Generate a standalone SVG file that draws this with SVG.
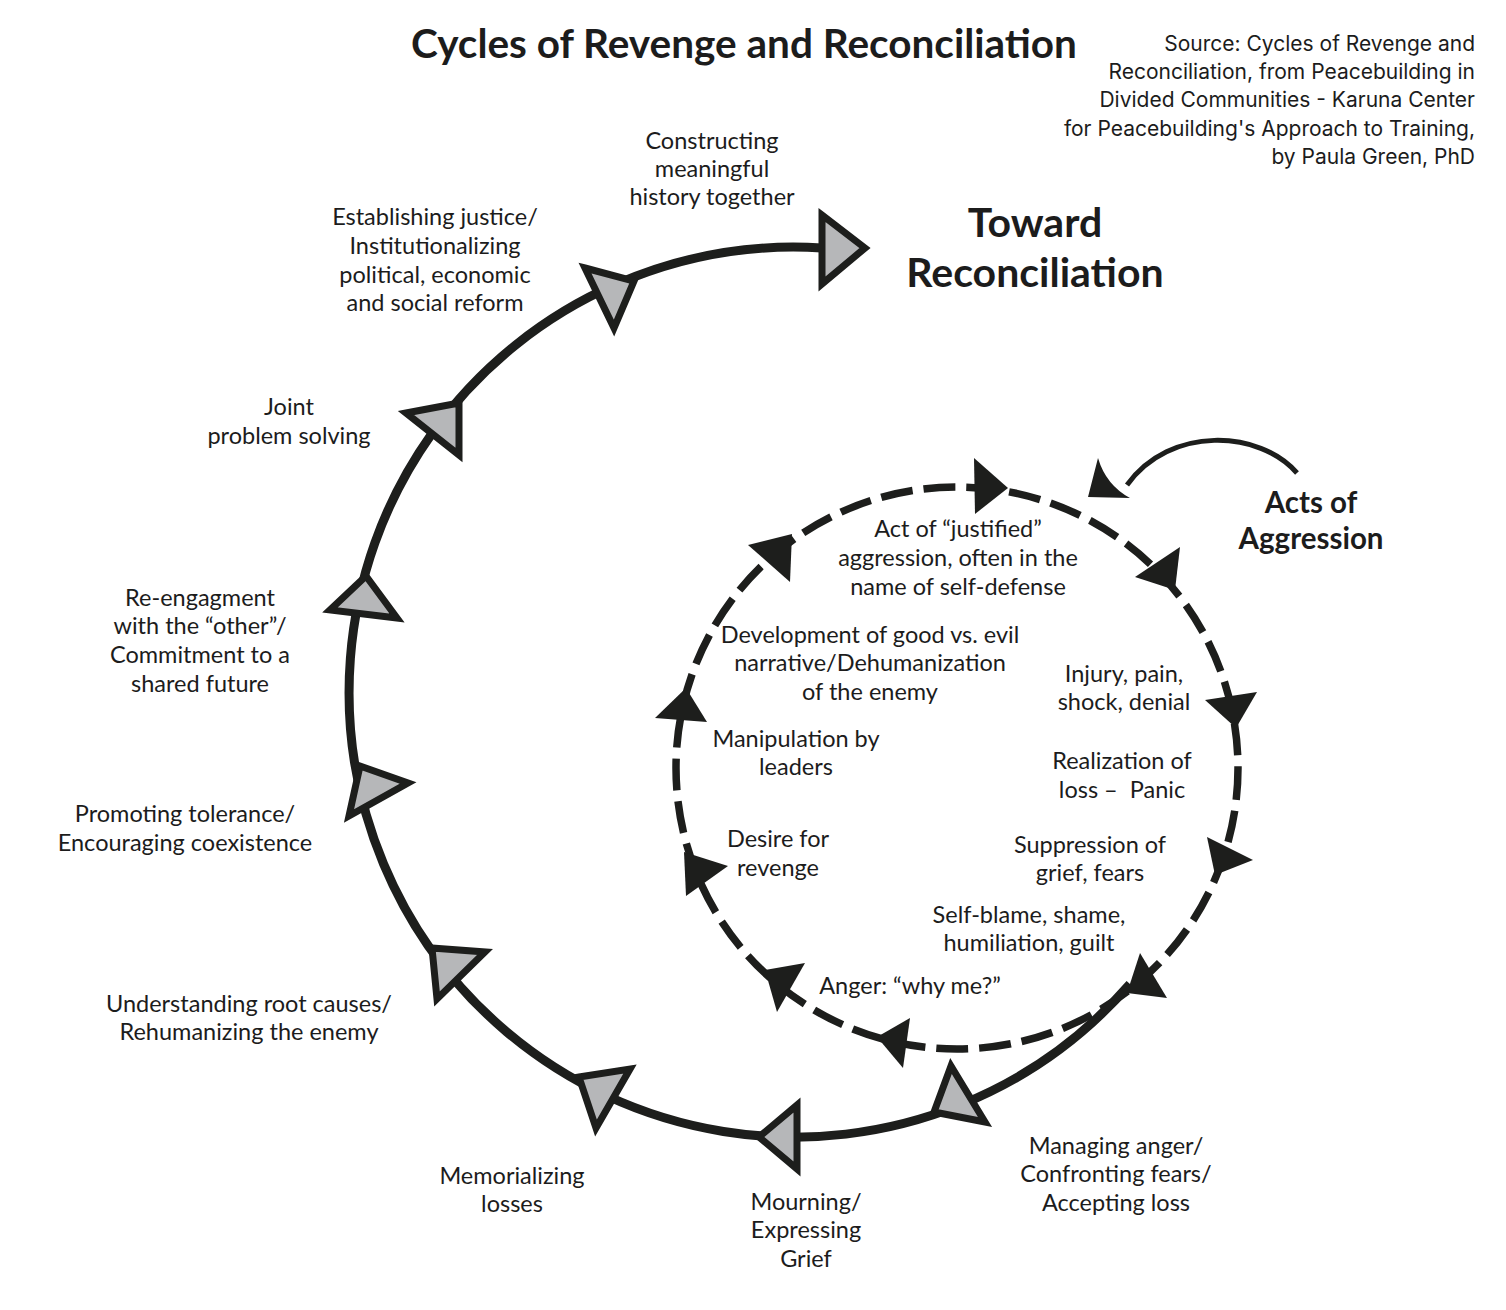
<svg xmlns="http://www.w3.org/2000/svg" width="1506" height="1310" viewBox="0 0 1506 1310">
<style>
  .t { font-family: Lato, "Noto Sans", "Liberation Sans", sans-serif; font-size: 23.5px; fill: #1c1c1c; text-anchor: middle; }
  .b { font-family: Lato, "Noto Sans", "Liberation Sans", sans-serif; font-weight: bold; fill: #1c1c1c; text-anchor: middle; }
  .src { font-family: Inter, "Liberation Sans", Arial, sans-serif; font-size: 21px; fill: #1c1c1c; text-anchor: end; }
  .outer { fill: none; stroke: #1d1e1c; stroke-width: 9; }
  .dash { fill: none; stroke: #1d1e1c; stroke-width: 7.5; stroke-dasharray: 32 11; }
  .tri { fill: #b6b7b9; stroke: #1d1e1c; stroke-width: 7; stroke-linejoin: miter; }
  .ah { fill: #1d1e1c; }
</style>
<rect width="1506" height="1310" fill="#ffffff"/>

<g id="title">
  <text class="b" x="744" y="58" font-size="40.5">Cycles of Revenge and Reconciliation</text>
</g>
<g id="source">
  <text class="src" x="1475" y="51">Source: Cycles of Revenge and</text>
  <text class="src" x="1475" y="79">Reconciliation, from Peacebuilding in</text>
  <text class="src" x="1475" y="107">Divided Communities - Karuna Center</text>
  <text class="src" x="1475" y="136">for Peacebuilding's Approach to Training,</text>
  <text class="src" x="1475" y="164">by Paula Green, PhD</text>
</g>

<g id="connectors">
  <circle class="dash" cx="957" cy="768" r="281"/>
  <path class="outer" d="M1130,984 A445,445 0 1 1 822,248"/>
  <path fill="none" stroke="#1d1e1c" stroke-width="5" d="M1297,473 C1260,430 1170,425 1127,485"/>
  <path class="ah" d="M1098,458 Q1106,485 1130,498 L1088,497 Z"/>
  <g id="inner-arrows">
    <polygon class="ah" points="974,458 1008,488 975,514"/>
    <polygon class="ah" points="1135,577 1180,547 1175,590"/>
    <polygon class="ah" points="1205,700 1257,692 1236,728"/>
    <polygon class="ah" points="1207,837 1253,860 1215,875"/>
    <polygon class="ah" points="1140,953 1167,998 1127,993"/>
    <polygon class="ah" points="877,1037 910,1018 903,1068"/>
    <polygon class="ah" points="765,970 805,963 777,1012"/>
    <polygon class="ah" points="684,852 728,866 686,896"/>
    <polygon class="ah" points="655,718 707,722 686,688"/>
    <polygon class="ah" points="748,545 792,534 790,582"/>
  </g>
  <g id="outer-arrows">
    <polygon class="tri" points="951,1066 985,1122 934,1112"/>
    <polygon class="tri" points="759,1137 797,1105 797,1169"/>
    <polygon class="tri" points="579,1077 630,1069 596,1128"/>
    <polygon class="tri" points="432,948 485,952 437,999"/>
    <polygon class="tri" points="360,766 408,783 349,816"/>
    <polygon class="tri" points="366,576 397,618 330,610"/>
    <polygon class="tri" points="406,413 459,403 459,455"/>
    <polygon class="tri" points="585,268 634,281 614,328"/>
    <polygon class="tri" points="822,215 865,248 822,284"/>
  </g>
</g>

<g id="toward-reconciliation">
  <text class="b" x="1035" y="237" font-size="41">Toward</text>
  <text class="b" x="1035" y="287" font-size="41">Reconciliation</text>
</g>
<g id="acts-of-aggression">
  <text class="b" x="1311" y="513" font-size="29.5">Acts of</text>
  <text class="b" x="1311" y="549" font-size="29.5">Aggression</text>
</g>

<g id="n-constructing">
  <text class="t" x="712" y="149">Constructing</text>
  <text class="t" x="712" y="177">meaningful</text>
  <text class="t" x="712" y="205">history together</text>
</g>
<g id="n-justice">
  <text class="t" x="435" y="225">Establishing justice/</text>
  <text class="t" x="435" y="254">Institutionalizing</text>
  <text class="t" x="435" y="283">political, economic</text>
  <text class="t" x="435" y="311">and social reform</text>
</g>
<g id="n-joint">
  <text class="t" x="289" y="415">Joint</text>
  <text class="t" x="289" y="444">problem solving</text>
</g>
<g id="n-reengagement">
  <text class="t" x="200" y="606">Re-engagment</text>
  <text class="t" x="200" y="634">with the “other”/</text>
  <text class="t" x="200" y="663">Commitment to a</text>
  <text class="t" x="200" y="692">shared future</text>
</g>
<g id="n-tolerance">
  <text class="t" x="185" y="822">Promoting tolerance/</text>
  <text class="t" x="185" y="851">Encouraging coexistence</text>
</g>
<g id="n-root-causes">
  <text class="t" x="249" y="1012">Understanding root causes/</text>
  <text class="t" x="249" y="1040">Rehumanizing the enemy</text>
</g>
<g id="n-memorializing">
  <text class="t" x="512" y="1184">Memorializing</text>
  <text class="t" x="512" y="1212">losses</text>
</g>
<g id="n-mourning">
  <text class="t" x="806" y="1210">Mourning/</text>
  <text class="t" x="806" y="1238">Expressing</text>
  <text class="t" x="806" y="1267">Grief</text>
</g>
<g id="n-managing">
  <text class="t" x="1116" y="1154">Managing anger/</text>
  <text class="t" x="1116" y="1182">Confronting fears/</text>
  <text class="t" x="1116" y="1211">Accepting loss</text>
</g>

<g id="n-act">
  <text class="t" x="958" y="537">Act of “justified”</text>
  <text class="t" x="958" y="566">aggression, often in the</text>
  <text class="t" x="958" y="595">name of self-defense</text>
</g>
<g id="n-development">
  <text class="t" x="870" y="643">Development of good vs. evil</text>
  <text class="t" x="870" y="671">narrative/Dehumanization</text>
  <text class="t" x="870" y="700">of the enemy</text>
</g>
<g id="n-injury">
  <text class="t" x="1124" y="682">Injury, pain,</text>
  <text class="t" x="1124" y="710">shock, denial</text>
</g>
<g id="n-realization">
  <text class="t" x="1122" y="769">Realization of</text>
  <text class="t" x="1122" y="798" xml:space="preserve">loss –  Panic</text>
</g>
<g id="n-suppression">
  <text class="t" x="1090" y="853">Suppression of</text>
  <text class="t" x="1090" y="881">grief, fears</text>
</g>
<g id="n-selfblame">
  <text class="t" x="1029" y="923">Self-blame, shame,</text>
  <text class="t" x="1029" y="951">humiliation, guilt</text>
</g>
<g id="n-anger">
  <text class="t" x="910" y="994">Anger: “why me?”</text>
</g>
<g id="n-desire">
  <text class="t" x="778" y="847">Desire for</text>
  <text class="t" x="778" y="876">revenge</text>
</g>
<g id="n-manipulation">
  <text class="t" x="796" y="747">Manipulation by</text>
  <text class="t" x="796" y="775">leaders</text>
</g>
</svg>
